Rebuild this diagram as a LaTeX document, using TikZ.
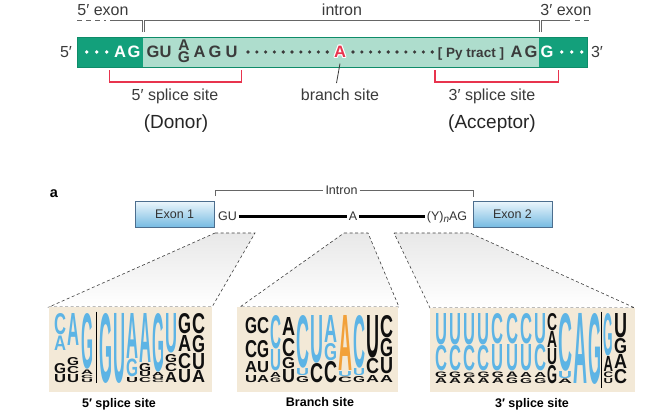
\documentclass[tikz,border=0pt]{standalone}
\usepackage{fontspec}
\setmainfont{Liberation Sans}
\usepackage{graphicx}
\definecolor{dkgreen}{HTML}{13A07B}
\definecolor{ltgreen}{HTML}{AEDDCD}
\definecolor{barline}{HTML}{0E8C69}
\definecolor{seqgray}{HTML}{3B3B3B}
\definecolor{brred}{HTML}{E8344E}
\definecolor{lblue}{HTML}{5DB4E5}
\definecolor{lorange}{HTML}{F2A13A}
\definecolor{beige}{HTML}{F3E9D7}
\definecolor{lblk}{HTML}{101010}
\definecolor{exonedge}{HTML}{4C6E8E}
\definecolor{exontop}{HTML}{EAF5FB}
\definecolor{exonbot}{HTML}{74BAE2}
\newcounter{lgc}
\newcommand{\lgl}[6]{%
  \stepcounter{lgc}%
  \pgfmathsetmacro{\lgh}{#4-#2}%
  \node[inner sep=0pt, outer sep=0pt, anchor=north west] (lg\arabic{lgc}) at (#1,#2)
    {\textcolor{#5}{\resizebox{#3pt}{\lgh pt}{\bfseries #6}}};}
\newcommand{\logocol}[3]{\foreach \qt/\qb/\qc/\ql in {#3}{\lgl{#1}{\qt}{#2}{\qb}{\qc}{\ql}}}
\begin{document}
\begin{tikzpicture}[x=1pt,y=-1pt,
  lbl/.style={font=\fontsize{16}{18}\selectfont, text=seqgray, inner sep=0pt, anchor=base},
  biglbl/.style={font=\fontsize{19}{22}\selectfont, text=black!85, inner sep=0pt, anchor=base},
  seqw/.style={font=\fontsize{16.5}{18}\selectfont\bfseries, text=white, inner sep=0pt, anchor=base},
  seqd/.style={font=\fontsize{16.5}{18}\selectfont\bfseries, text=seqgray, inner sep=0pt, anchor=base},
  brk/.style={draw=black!60, line width=0.9pt},
  redbr/.style={draw=brred, line width=1.3pt},
  exonbox/.style={draw=exonedge, line width=0.8pt, top color=exontop, bottom color=exonbot, minimum width=79pt, minimum height=26pt, inner sep=0pt, font=\fontsize{12.5}{14}\selectfont, text=black!80},
  smlbl/.style={font=\fontsize{12.5}{14}\selectfont, text=black!80, inner sep=1.5pt, anchor=base},
  funnel/.style={draw=black!75, dash pattern=on 3pt off 2.5pt, line width=0.6pt, top color=black!9, bottom color=white},
  panel/.style={fill=beige},
  sepline/.style={draw=black, line width=0.5pt},
  caption/.style={font=\fontsize{12.5}{14}\selectfont\bfseries, text=black, inner sep=0pt, anchor=base},
]
\useasboundingbox (0,0) rectangle (666,415);
\fill[white] (0,0) rectangle (666,415);

% ===== top diagram =====
\node[lbl] (exL) at (103,15) {5′ exon};
\node[lbl] (intT) at (342,15) {intron};
\node[lbl] (exR) at (566,15) {3′ exon};
\draw[brk, dash pattern=on 5pt off 4pt] (77,20) -- (106,20);
\draw[brk] (110,20) -- (142.7,20) -- (142.7,32);
\draw[brk] (144.5,32) -- (144.5,20) -- (539,20) -- (539,32);
\draw[brk] (541,32) -- (541,20) -- (570,20);
\draw[brk, dash pattern=on 5pt off 4pt] (575,20) -- (591,20);

\fill[ltgreen] (143.3,37) rectangle (539,67);
\fill[dkgreen] (77.3,37) rectangle (143.3,67);
\fill[dkgreen] (539,37) rectangle (587.7,67);
\draw[barline, line width=1pt] (77.3,37) rectangle (587.7,67);

\node[lbl] (p5) at (66,57.5) {5′};
\node[lbl] (p3) at (597,57.5) {3′};

\foreach \x in {86.7,96.7,106.7} \fill[white] (\x,52) circle (1.9);
\node[seqw] (wA) at (120,57.5) {A};
\node[seqw] (wG) at (134,57.5) {G};
\node[seqd] (dG1) at (153,57.5) {G};
\node[seqd] (dU1) at (165.5,57.5) {U};
\node[seqd, font=\fontsize{15.5}{17}\selectfont\bfseries] (stA) at (184,50) {A};
\node[seqd, font=\fontsize{15.5}{17}\selectfont\bfseries] (stG) at (184,62.5) {G};
\node[seqd] (dA2) at (199.5,57.5) {A};
\node[seqd] (dG2) at (215,57.5) {G};
\node[seqd] (dU2) at (231.5,57.5) {U};
\foreach \i in {0,...,9} \fill[seqgray] (248+8.8*\i,52) circle (1.8);
\foreach \ang in {0,45,...,315}
  \node[seqw] (hA\ang) at ({340+1*cos(\ang)},{57.5+1*sin(\ang)}) {A};
\node[seqw, text=brred] (brA) at (340,57.5) {A};
\foreach \i in {0,...,9} \fill[seqgray] (353+8.8*\i,52) circle (1.8);
\node[seqd, font=\fontsize{13.5}{15}\selectfont\bfseries] (py) at (471,57) {[ Py tract ]};
\node[seqd] (dA3) at (516.5,57.5) {A};
\node[seqd] (dG3) at (531,57.5) {G};
\node[seqw] (wG2) at (547,57.5) {G};
\foreach \x in {561.7,571.7,581.7} \fill[white] (\x,52) circle (1.9);

\draw[redbr] (109.3,70) -- (109.3,82) -- (241.7,82) -- (241.7,70);
\draw[redbr] (435,70) -- (435,82) -- (558.3,82) -- (558.3,70);
\coordinate (brend) at (336.5,83);
\draw[draw=seqgray, line width=0.8pt] (340,63.5) -- (brend);

\node[lbl] (ss5) at (175,100) {5′ splice site};
\node[lbl] (bs) at (340,100) {branch site};
\node[lbl] (ss3) at (492,100) {3′ splice site};
\node[biglbl] (don) at (176,128) {(Donor)};
\node[biglbl] (acc) at (492,128) {(Acceptor)};

% ===== bottom diagram =====
\node[font=\fontsize{14.5}{16}\selectfont\bfseries, anchor=base, inner sep=0pt] (lbla) at (54,197.5) {a};

% funnels
\path[funnel] (215,233) -- (255,233) -- (212,307) -- (49,307) -- cycle;
\path[funnel] (344,233) -- (368,233) -- (399,307) -- (240,307) -- cycle;
\path[funnel] (394,233) -- (470,233) -- (635,308) -- (430,308) -- cycle;

% panels
\fill[panel] (49,307) rectangle (212,392);
\fill[panel] (237,307) rectangle (398,392);
\fill[panel] (430,308) rectangle (635,392);

\node[exonbox] (ex1) at (174.7,214.7) {Exon 1};
\node[exonbox] (ex2) at (512.5,214.5) {Exon 2};
\node[font=\fontsize{12.5}{14}\selectfont, text=black!80, inner sep=2pt] (intB) at (341.5,190) {Intron};
\draw[draw=black!60, line width=0.6pt] (214.8,196) -- (214.8,190) -- (intB.west);
\draw[draw=black!60, line width=0.6pt] (intB.east) -- (473,190) -- (473,197);

\coordinate (bbk) at (0,216.5);
\node[smlbl] (gu) at (227.5,220.5) {GU};
\node[smlbl] (bA) at (353,220) {A};
\node[smlbl] (yn) at (447,220) {(Y)\raisebox{-2.5pt}{\itshape\fontsize{10}{11}\selectfont n}AG};
\draw[line width=2.2pt] (gu.east |- bbk) -- (bA.west |- bbk);
\draw[line width=2.2pt] (bA.east |- bbk) -- (yn.west |- bbk);

% ---- panel 1 logo
\logocol{54}{12}{313/334/lblue/C, 335.5/350/lblue/A, 363/373/lblk/G, 374/382/lblk/U}
\logocol{67}{12}{313/345/lblue/A, 357/365/lblk/G, 366/373/lblk/C, 374/382/lblk/U}
\logocol{81}{12}{313/368/lblue/G, 370/374.5/lblk/A, 375/378.2/lblk/C, 378.6/382/lblk/U}
\draw[sepline] (96.7,311.5) -- (96.7,383);
\logocol{99}{13}{313/382/lblue/G}
\logocol{113}{12}{313/382/lblue/U}
\logocol{126}{12}{313/358/lblue/A, 358.5/376/lblue/G, 377/382/lblk/U}
\logocol{139}{12}{313/362/lblue/A, 363/371/lblk/G, 371.5/376.5/lblk/U, 377/382/lblk/C}
\logocol{152}{12}{313/371/lblue/G, 372/376/lblk/A, 376.3/379/lblk/U, 379.3/382/lblk/C}
\logocol{165}{12}{313/352/lblue/U, 354/362/lblk/G, 363/371/lblk/C, 372/382/lblk/A}
\logocol{178}{13}{313/333/lblk/G, 335/351/lblk/A, 353/368/lblk/C, 369/382/lblk/U}
\logocol{192}{13}{313/333/lblk/C, 335/352/lblk/G, 353/369/lblk/U, 370/382/lblk/A}

% ---- panel 2 logo
\logocol{245}{12}{317/333/lblk/G, 340/357/lblk/C, 361/372/lblk/A, 375/382/lblk/U}
\logocol{257}{12}{317/333/lblk/C, 340/357/lblk/G, 361/372/lblk/U, 375/382/lblk/A}
\logocol{270}{11}{315/348/lblue/C, 349/370/lblue/U, 372/377/lblk/A, 377.5/382/lblk/G}
\logocol{282}{13}{317/335/lblk/A, 338/356/lblk/C, 357/368/lblk/G, 369/382/lblk/U}
\logocol{296}{13}{315/367/lblue/C, 368/375/lblue/U, 376/382/lblk/G}
\logocol{310}{13}{315/362/lblue/U, 363/382/lblk/C}
\logocol{324}{13}{315/342/lblue/A, 343/360/lblue/G, 361/382/lblk/C}
\logocol{338}{14}{315/370/lorange/A, 371/376/lblue/U, 376.5/382/lblk/C}
\logocol{353}{12}{315/367/lblue/C, 368/375/lblue/U, 376/382/lblk/G}
\logocol{366}{13}{315/357/lblk/U, 358/373/lblk/C, 375/382/lblk/A}
\logocol{380}{13}{315/337/lblk/C, 338/356/lblk/G, 357/373/lblk/U, 375/382/lblk/A}

% ---- panel 3 logo
\logocol{435}{12}{313/344/lblue/U, 345/370/lblue/C, 371.5/377/lblk/G, 377.5/383/lblk/A}
\logocol{449.2}{12}{313/344/lblue/U, 345/370/lblue/C, 371.5/377/lblk/G, 377.5/383/lblk/A}
\logocol{463.4}{12}{313/344/lblue/U, 345/370/lblue/C, 372.5/377/lblk/G, 377.5/383/lblk/A}
\logocol{477.6}{12}{313/344/lblue/U, 345/370/lblue/C, 371.5/377/lblk/G, 377.5/383/lblk/A}
\logocol{491.8}{12}{313/343/lblue/C, 344/370/lblue/U, 371.5/377/lblk/G, 377.5/383/lblk/A}
\logocol{506}{12}{313/343/lblue/C, 344/370/lblue/U, 371.5/377/lblk/A, 377.5/383/lblk/G}
\logocol{520.2}{12}{313/343/lblue/C, 344/370/lblue/U, 372.5/377.5/lblk/A, 378/383/lblk/G}
\logocol{534.4}{12}{313/343/lblue/U, 344/370/lblue/C, 372.5/377.5/lblk/A, 378/383/lblk/G}
\logocol{547}{10}{313/330/lblk/C, 331/347/lblk/A, 348/364/lblk/U, 365/383/lblk/G}
\logocol{558}{14}{313/370/lblue/C, 371/378/lblue/U, 378.5/383/lblk/A}
\logocol{573}{14}{313/383/lblue/A}
\logocol{588}{13}{313/383/lblue/G}
\draw[sepline] (601.7,311.5) -- (601.7,388);
\logocol{603.5}{9.5}{313/355/lblue/G, 356/371/lblk/A, 372/377.5/lblk/C, 378/383/lblk/U}
\logocol{614}{13}{313/337/lblk/U, 338/353/lblk/G, 354/368/lblk/A, 369/383/lblk/C}

\node[caption] (cap1) at (119,407) {5′ splice site};
\node[caption] (cap2) at (320,406.5) {Branch site};
\node[caption] (cap3) at (532,407) {3′ splice site};
\end{tikzpicture}
\end{document}
